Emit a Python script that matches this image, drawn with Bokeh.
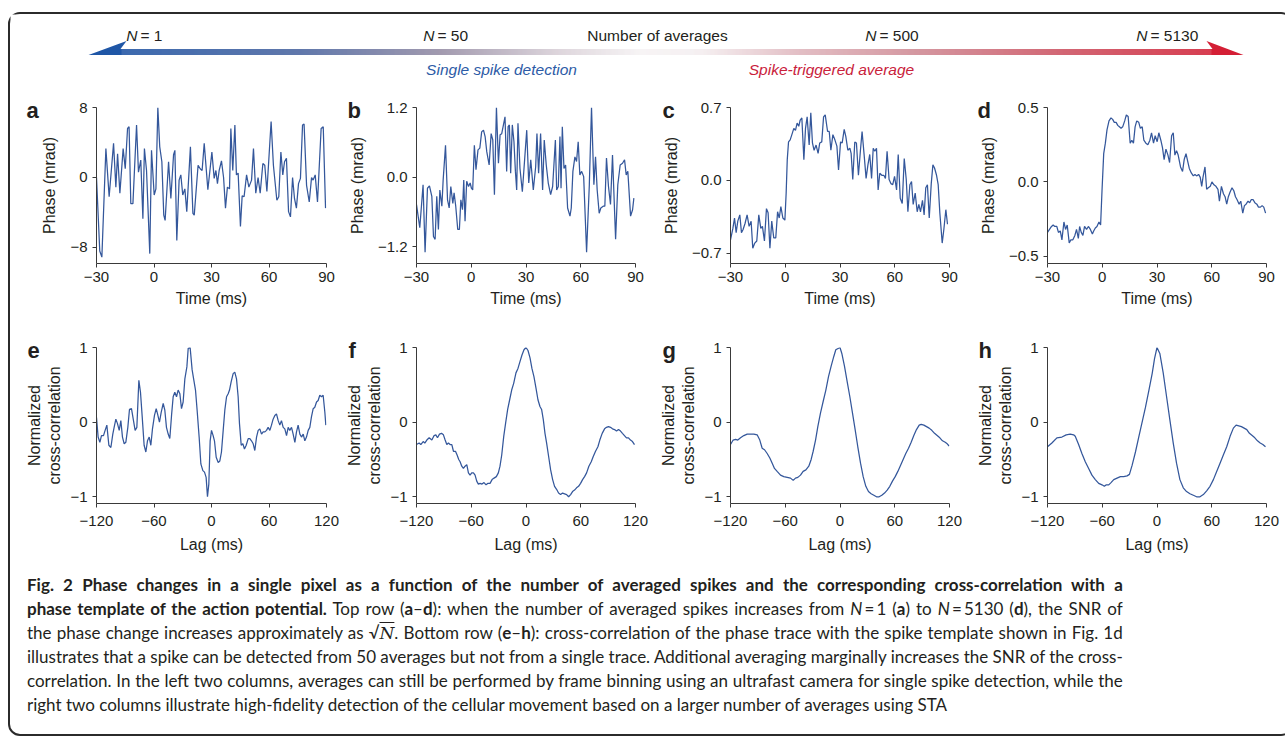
import numpy as np
from bokeh.plotting import figure
from bokeh.models import Range1d, FixedTicker, CustomJSTickFormatter, Label, Div
from bokeh.layouts import column, row
from bokeh.embed import file_html
from bokeh.resources import INLINE

# ---------------- data ----------------
# a: N = 1, phase (mrad) vs time (ms)
a_t = [-30.0,-28.3,-27.2,-25.1,-23.4,-21.1,-19.9,-19.0,-17.8,-16.1,-15.0,-13.8,-13.0,-12.1,-11.0,-9.1,-8.1,-6.9,-5.8,-5.0,
       -3.9,-2.2,-1.3,0.1,1.0,2.0,3.0,4.1,5.1,5.8,7.6,8.8,10.2,10.9,11.9,13.1,14.0,15.0,16.1,17.1,
       19.0,20.3,21.0,23.0,24.1,25.1,26.2,28.1,30.2,31.4,32.3,33.1,34.0,35.2,36.3,37.3,38.3,39.4,40.1,41.1,
       42.2,43.0,43.9,45.1,46.0,47.0,48.3,49.5,50.9,51.9,53.1,54.3,55.4,56.8,57.8,58.9,61.1,62.3,64.1,65.1,
       66.2,67.2,68.1,69.1,70.2,71.2,72.3,73.3,74.3,75.4,76.4,77.5,78.3,79.6,81.0,82.2,83.0,84.1,85.3,87.2,
       88.3,89.5]
a_v = [0.0,-8.4,-9.1,3.3,-2.2,3.9,-1.1,2.7,-1.8,3.3,1.0,5.6,5.8,-3.0,-3.0,6.0,0.6,2.0,-4.7,3.3,
       0.8,-8.7,3.1,-2.0,-1.3,8.0,3.5,1.8,-4.3,-4.9,1.8,-2.4,2.6,3.1,-7.2,-0.3,0.3,-2.0,-1.3,-3.9,
       3.5,-4.1,-4.3,1.4,1.0,0.8,3.9,-1.4,2.9,-0.1,0.8,-0.7,0.8,1.9,0.0,-3.5,-1.1,-1.3,5.6,0.8,
       6.0,0.3,0.5,-5.6,-2.1,-2.2,0.3,-1.1,-0.3,3.3,-1.8,0.0,-1.8,1.6,1.4,-1.6,6.4,1.4,-2.6,-2.2,
       2.9,0.3,1.8,2.2,-3.9,-4.5,0.0,-2.4,-3.5,-0.7,-0.1,6.0,6.1,-0.9,-2.8,0.0,-0.3,0.3,-2.8,5.6,
       5.8,-3.5]
# b: N = 50
b_t = [-30.0,-28.2,-26.4,-25.3,-24.0,-22.9,-21.6,-20.7,-19.8,-18.9,-18.0,-17.2,-16.1,-15.4,-14.1,-13.0,-12.1,-11.2,-10.1,-9.4,
       -8.5,-7.4,-6.5,-5.7,-4.8,-4.1,-3.4,-2.5,-1.5,-0.6,0.1,0.8,1.7,2.6,3.7,4.7,5.7,6.7,7.6,8.5,
       9.8,10.9,11.8,12.7,13.8,14.9,15.8,16.7,18.5,19.4,20.2,20.9,21.6,22.5,23.4,24.2,24.9,25.6,26.7,28.0,
       30.4,31.5,32.6,34.0,35.3,36.0,36.9,38.0,39.1,40.0,41.1,42.2,43.5,44.6,46.1,46.8,47.7,48.6,49.2,49.9,
       50.8,51.7,52.8,54.1,54.8,55.7,56.8,57.7,58.6,59.5,60.5,61.6,63.2,64.7,65.9,67.2,68.1,69.0,70.1,71.0,
       72.3,73.2,74.1,75.2,76.3,77.4,79.1,80.3,81.6,82.9,84.0,84.9,85.8,87.3,88.4,89.1]
b_v = [-0.47,-0.87,-0.13,-1.29,-0.19,-0.15,-0.33,-1.02,-1.07,-0.33,-0.9,-0.22,-0.5,-0.05,0.55,-0.39,-0.53,-0.16,-0.45,-0.27,
       -0.5,-0.9,-0.9,-0.39,-0.56,-0.05,-0.76,-0.07,-0.16,-0.1,-0.19,-0.22,0.55,0.13,0.47,0.5,0.78,0.81,0.7,0.44,
       0.21,0.75,0.64,-0.3,1.2,0.24,0.73,0.75,1.04,0.1,0.87,0.9,0.07,0.9,0.61,0.1,-0.22,0.93,0.15,-0.25,
       0.81,-0.1,0.3,-0.22,0.18,0.75,0.07,0.75,-0.22,0.64,0.21,-0.1,-0.3,-0.16,0.64,-0.22,-0.16,0.7,-0.19,0.87,
       0.15,0.21,-0.53,-0.67,-0.53,0.1,0.35,0.27,0.61,0.04,0.1,0.01,-1.29,-0.13,1.2,-0.13,0.35,-0.22,-0.62,-0.53,
       -0.5,-0.5,0.33,-0.16,-0.47,0.38,-1.07,-0.13,0.21,0.24,0.3,0.04,0.1,-0.67,-0.56,-0.36]
# c: N = 500
c_t = [-30.0,-28.7,-27.8,-26.9,-26.0,-24.9,-24.0,-23.1,-22.0,-20.9,-19.8,-18.7,-17.8,-16.7,-15.6,-14.5,-13.4,-12.5,-11.4,-10.3,
       -9.4,-8.4,-7.4,-6.3,-5.2,-4.2,-3.3,-2.4,-1.3,-0.2,0.5,1.1,1.8,2.7,3.8,4.7,5.6,6.5,7.4,8.2,
       9.1,10.2,11.1,12.0,13.1,14.0,14.9,15.8,16.9,18.0,18.9,20.0,21.0,21.9,23.2,24.1,25.0,26.1,27.2,28.3,
       29.2,30.3,31.2,32.3,33.2,34.3,35.4,36.1,37.0,38.1,39.0,40.1,41.2,42.1,43.2,44.3,45.3,46.3,47.3,48.2,
       49.1,50.0,50.9,51.8,52.9,54.0,54.9,55.8,56.9,57.9,58.9,59.9,61.0,61.9,63.0,64.1,65.2,66.3,67.2,68.3,
       69.2,70.1,71.2,72.3,73.2,74.1,75.2,76.1,77.0,77.9,78.9,80.0,80.9,81.8,82.9,83.8,84.7,86.0,86.9,88.0,
       88.9]
c_v = [-0.57,-0.46,-0.36,-0.5,-0.39,-0.33,-0.5,-0.47,-0.41,-0.33,-0.44,-0.39,-0.65,-0.6,-0.58,-0.33,-0.46,-0.44,-0.58,-0.27,
       -0.31,-0.65,-0.39,-0.55,-0.55,-0.3,-0.36,-0.25,-0.36,-0.38,-0.12,0.2,0.37,0.39,0.45,0.5,0.48,0.55,0.52,0.58,
       0.6,0.2,0.5,0.61,0.34,0.65,0.36,0.29,0.34,0.26,0.36,0.37,0.61,0.63,0.47,0.47,0.29,0.44,0.39,0.33,
       0.1,0.37,0.36,0.49,0.42,0.29,0.31,0.26,0.01,0.37,0.36,0.05,0.29,0.47,0.25,0.02,0.15,0.25,0.02,0.31,
       0.28,0.31,-0.09,0.07,0.05,0.05,0.02,0.28,0.01,-0.03,-0.04,0.04,-0.09,0.25,-0.17,-0.22,0.21,0.01,-0.3,-0.04,
       -0.01,-0.23,-0.12,-0.3,-0.23,-0.3,-0.19,-0.33,-0.07,-0.04,-0.36,-0.03,0.15,0.12,0.05,-0.04,-0.31,-0.6,-0.47,-0.28,
       -0.42]
# d: N = 5130
d_t = [-30.0,-28.9,-27.8,-26.9,-26.0,-24.9,-24.0,-23.0,-22.1,-21.0,-20.1,-19.2,-18.1,-17.2,-16.1,-15.0,-14.1,-13.1,-12.4,-11.5,
       -10.6,-9.7,-8.6,-7.6,-6.5,-5.4,-4.7,-3.8,-2.9,-1.8,-0.9,-0.1,0.8,1.7,2.6,3.7,4.8,5.7,6.6,7.6,
       8.5,9.4,10.3,11.2,12.3,13.2,14.2,15.3,16.2,17.1,18.0,18.9,20.0,20.9,21.9,22.8,23.9,25.0,26.1,27.0,
       28.1,29.0,30.1,31.0,32.1,33.0,33.9,34.9,36.0,36.9,38.0,38.9,39.8,40.7,41.6,42.9,44.0,44.9,45.9,46.8,
       47.7,48.8,49.9,50.8,51.7,52.8,53.7,54.5,55.2,56.3,57.2,58.1,59.2,60.1,61.2,62.3,63.4,64.2,65.3,66.4,
       67.3,68.2,69.1,70.0,71.1,72.1,73.0,73.9,75.0,75.9,77.0,77.9,78.8,79.9,80.8,81.6,82.7,83.6,84.7,85.6,
       86.7,87.6,88.5,89.5]
d_v = [-0.34,-0.32,-0.3,-0.29,-0.3,-0.3,-0.34,-0.33,-0.39,-0.27,-0.32,-0.29,-0.41,-0.39,-0.39,-0.36,-0.32,-0.38,-0.3,-0.34,
       -0.36,-0.3,-0.32,-0.3,-0.32,-0.35,-0.33,-0.31,-0.3,-0.27,-0.29,-0.05,0.19,0.26,0.35,0.41,0.43,0.42,0.4,0.4,
       0.38,0.37,0.36,0.37,0.41,0.45,0.44,0.26,0.28,0.26,0.37,0.41,0.4,0.36,0.37,0.28,0.26,0.25,0.28,0.33,
       0.26,0.31,0.27,0.33,0.28,0.23,0.15,0.22,0.18,0.13,0.31,0.33,0.18,0.21,0.18,0.1,0.07,0.15,0.19,0.14,
       0.09,0.06,0.04,0.05,0.04,0.05,0.03,-0.03,0.03,0.1,-0.05,-0.04,-0.03,0.0,-0.02,-0.03,-0.05,-0.13,-0.03,-0.08,
       -0.1,-0.15,-0.1,-0.07,-0.04,-0.06,-0.1,-0.12,-0.15,-0.13,-0.21,-0.16,-0.15,-0.13,-0.14,-0.12,-0.12,-0.14,-0.15,-0.17,
       -0.17,-0.16,-0.17,-0.21]
# e: cross-correlation, N = 1 (lag in ms)
e_t = [-120.0,-118.3,-116.5,-114.8,-112.7,-111.0,-109.2,-107.1,-105.0,-103.0,-101.6,-99.8,-98.1,-96.3,-94.6,-92.9,-91.1,-89.4,-87.3,-85.6,
       -83.5,-81.4,-79.7,-77.9,-75.8,-74.1,-72.3,-70.3,-68.5,-66.8,-65.0,-63.3,-61.6,-59.5,-57.7,-56.3,-54.3,-52.5,-50.4,-48.7,
       -47.0,-45.2,-43.5,-41.7,-40.0,-38.3,-36.5,-34.8,-33.0,-31.3,-29.6,-27.8,-25.7,-24.3,-22.3,-20.2,-18.4,-16.7,-15.0,-12.9,
       -11.1,-9.0,-7.3,-5.6,-4.2,-2.8,-1.4,0.0,1.7,3.1,4.9,7.0,8.7,10.4,12.2,13.9,15.7,17.4,18.8,20.5,
       22.6,24.3,26.1,27.8,29.2,31.0,32.7,34.4,36.2,38.3,40.0,41.7,43.5,45.2,47.0,48.7,50.4,52.2,53.9,55.7,
       57.4,59.1,60.9,62.6,64.3,66.1,67.8,69.6,71.3,73.0,74.8,76.5,78.3,80.0,81.7,83.5,85.2,87.0,88.7,90.4,
       92.2,93.9,95.7,97.4,99.1,100.9,102.6,104.3,106.1,107.8,109.6,111.3,113.0,114.8,116.5,118.3,119.3]
e_v = [0.06,-0.2,-0.27,-0.18,-0.18,-0.11,-0.04,-0.31,-0.34,-0.16,-0.07,0.04,-0.02,-0.11,0.02,-0.2,-0.29,-0.27,-0.07,0.17,
       0.18,0.02,-0.11,-0.07,0.56,0.4,0.07,-0.31,-0.4,-0.25,-0.2,-0.31,-0.09,0.09,0.18,0.11,0.0,0.13,0.25,0.16,
       -0.07,-0.16,-0.22,0.09,0.34,0.4,0.34,0.43,0.38,0.18,0.27,0.58,0.74,0.99,1.0,0.7,0.56,0.43,0.16,-0.2,
       -0.56,-0.65,-0.67,-0.74,-1.0,-0.83,-0.25,-0.11,-0.18,-0.25,-0.47,-0.54,-0.52,-0.4,-0.11,0.16,0.34,0.38,0.43,0.54,
       0.65,0.67,0.58,0.34,-0.02,-0.31,-0.29,-0.36,-0.31,-0.22,-0.22,-0.25,-0.29,-0.38,-0.2,-0.11,-0.09,-0.16,-0.13,-0.13,
       -0.11,-0.07,-0.11,-0.04,0.04,0.09,0.11,0.02,-0.04,0.02,-0.07,-0.09,-0.18,-0.07,-0.11,-0.07,-0.16,-0.27,-0.13,-0.04,
       -0.16,-0.2,-0.16,-0.25,-0.2,-0.11,-0.07,0.07,0.18,0.2,0.27,0.29,0.36,0.34,0.36,0.13,-0.04]
# f: N = 50
f_t = [-120.0,-117.1,-115.3,-112.7,-110.9,-108.7,-106.1,-103.2,-100.7,-98.8,-97.0,-94.8,-92.6,-90.5,-88.6,-86.8,-85.0,-83.2,-81.3,-79.5,
       -77.3,-75.5,-73.7,-72.2,-70.4,-68.6,-66.8,-64.9,-63.1,-61.3,-59.5,-57.6,-55.8,-54.0,-52.2,-50.3,-48.2,-46.0,-43.8,-41.6,
       -39.4,-37.2,-35.0,-32.5,-30.3,-28.5,-26.6,-24.4,-22.3,-20.1,-17.9,-15.7,-13.5,-11.0,-8.8,-6.6,-4.4,-2.2,0.0,2.2,
       4.4,6.5,8.7,10.9,13.1,15.3,17.1,19.0,20.8,22.6,24.8,27.0,29.2,31.3,33.5,35.7,37.9,40.1,42.3,44.5,
       46.7,48.9,51.0,53.2,55.4,57.6,59.8,62.0,64.2,66.4,68.9,71.5,73.7,76.2,78.8,80.9,83.5,86.1,88.2,90.4,
       92.6,94.8,97.0,99.2,101.4,103.6,105.7,107.9,110.1,112.3,114.5,116.7,118.9]
f_v = [-0.3,-0.28,-0.3,-0.26,-0.28,-0.24,-0.21,-0.24,-0.18,-0.17,-0.21,-0.16,-0.15,-0.17,-0.24,-0.3,-0.28,-0.3,-0.3,-0.39,
       -0.39,-0.44,-0.5,-0.53,-0.59,-0.62,-0.59,-0.57,-0.68,-0.71,-0.68,-0.68,-0.71,-0.79,-0.83,-0.82,-0.83,-0.81,-0.84,-0.82,
       -0.82,-0.77,-0.75,-0.73,-0.68,-0.59,-0.44,-0.19,-0.01,0.17,0.3,0.43,0.52,0.66,0.72,0.81,0.9,0.97,1.0,0.96,
       0.86,0.72,0.61,0.46,0.3,0.21,0.17,0.03,-0.15,-0.28,-0.46,-0.64,-0.77,-0.86,-0.9,-0.95,-0.97,-0.95,-0.96,-0.97,
       -1.0,-0.97,-0.93,-0.91,-0.88,-0.86,-0.82,-0.77,-0.73,-0.68,-0.59,-0.53,-0.46,-0.39,-0.33,-0.24,-0.15,-0.09,-0.07,-0.06,
       -0.07,-0.09,-0.1,-0.12,-0.1,-0.12,-0.15,-0.18,-0.21,-0.21,-0.24,-0.26,-0.3]
# g: N = 500
g_t = [-120.0,-117.1,-114.5,-112.0,-109.0,-105.4,-101.7,-98.1,-94.4,-90.8,-87.9,-85.3,-82.7,-79.8,-76.9,-74.3,-71.8,-68.9,-65.2,-61.6,
       -57.9,-54.2,-51.3,-48.8,-46.2,-43.3,-40.4,-37.4,-34.2,-31.6,-29.4,-26.8,-24.3,-21.4,-18.4,-15.5,-12.6,-9.7,-6.8,-4.6,
       0.0,2.0,4.9,7.9,10.8,13.7,16.6,19.5,22.5,25.4,28.3,31.2,34.1,37.1,40.0,42.9,45.8,48.8,51.7,54.6,
       57.5,60.5,63.4,66.3,69.2,72.1,75.1,78.0,80.9,83.8,86.8,89.0,91.9,94.8,97.7,100.6,103.6,106.5,109.4,112.3,
       115.3,117.5,119.6]
g_v = [-0.3,-0.24,-0.23,-0.24,-0.21,-0.18,-0.16,-0.16,-0.16,-0.17,-0.24,-0.35,-0.37,-0.42,-0.48,-0.55,-0.62,-0.66,-0.71,-0.73,
       -0.74,-0.75,-0.78,-0.75,-0.74,-0.71,-0.66,-0.64,-0.59,-0.5,-0.39,-0.24,-0.06,0.12,0.28,0.43,0.61,0.75,0.88,0.97,
       1.0,0.92,0.75,0.54,0.34,0.12,-0.1,-0.33,-0.55,-0.73,-0.86,-0.93,-0.96,-0.98,-1.0,-1.0,-0.98,-0.95,-0.91,-0.86,
       -0.79,-0.73,-0.66,-0.58,-0.5,-0.42,-0.35,-0.27,-0.18,-0.1,-0.04,-0.03,-0.04,-0.06,-0.08,-0.11,-0.15,-0.18,-0.21,-0.25,
       -0.27,-0.29,-0.32]
# h: N = 5130
h_t = [-120.0,-115.2,-109.7,-104.2,-99.5,-95.1,-91.4,-89.6,-85.9,-82.3,-78.6,-74.9,-71.3,-67.6,-63.9,-60.3,-57.7,-55.5,-52.9,-50.4,
       -47.4,-43.8,-40.1,-36.5,-32.8,-30.2,-27.3,-23.6,-20.0,-16.3,-12.6,-9.0,-5.3,-2.7,0.0,3.1,6.8,10.5,14.1,17.8,
       21.4,25.1,28.8,32.4,36.1,39.8,43.4,47.1,50.8,54.4,58.1,61.8,65.4,69.1,72.7,76.4,80.1,83.7,86.7,89.6,
       92.5,95.5,98.4,101.3,104.3,107.2,110.1,113.1,116.0,118.9]
h_v = [-0.33,-0.28,-0.21,-0.2,-0.17,-0.16,-0.17,-0.19,-0.3,-0.42,-0.53,-0.62,-0.71,-0.77,-0.82,-0.84,-0.86,-0.84,-0.84,-0.81,
       -0.77,-0.75,-0.73,-0.73,-0.72,-0.7,-0.58,-0.4,-0.2,0.0,0.2,0.42,0.65,0.85,1.0,0.92,0.66,0.34,0.03,-0.28,
       -0.55,-0.77,-0.88,-0.93,-0.96,-0.98,-1.0,-1.0,-0.97,-0.92,-0.86,-0.77,-0.66,-0.55,-0.44,-0.33,-0.19,-0.08,-0.04,-0.05,
       -0.06,-0.08,-0.1,-0.15,-0.18,-0.21,-0.25,-0.28,-0.3,-0.33]

letters = ["a", "b", "c", "d", "e", "f", "g", "h"]
time_ticks = [-30, 0, 30, 60, 90]
lag_ticks = [-120, -60, 0, 60, 120]
phase_ticks = [[-8, 0, 8], [-1.2, 0.0, 1.2], [-0.7, 0.0, 0.7], [-0.5, 0.0, 0.5]]
phase_decimals = [0, 1, 1, 1]
phase_ylims = [(-9.83, 8), (-1.486, 1.2), (-0.796, 0.7), (-0.549, 0.5)]
xcorr_ticks = [-1, 0, 1]
xcorr_ylim = (-1.09, 1)
header_counts = ["1", "50", "500", "5130"]

# ---------------- style ----------------
FONT = "Liberation Sans"
LINE = "#34579b"
INK = "#231f20"
AXC = "#3a3a3a"

INNER_W = 1271
# column geometry: (figure width, left border, right border)
COLS = [(330, 86, 14), (315, 76, 20), (315, 75, 21), (311, 77, 15)]
# rows: (height, top border, bottom border, tick-label standoff, axis-label standoff, ylabel standoff)
ROW1 = (240, 27, 57, 4, 5, 9)
ROW2 = (238, 27, 55, 8, 7, 4)
LETTER_DX = [-70, -69, -68, -70, -69, -68, -68, -69]


def tick_fmt(dec):
    return CustomJSTickFormatter(args=dict(d=dec), code="""
        const s = Math.abs(tick).toFixed(d);
        return (tick < -1e-9 ? '\u2212' : '') + s;
    """)


def style_axis(ax):
    ax.axis_line_color = AXC
    ax.axis_line_width = 1
    ax.major_tick_line_color = AXC
    ax.major_tick_out = 4
    ax.major_tick_in = 0
    ax.minor_tick_line_color = None
    ax.major_label_text_font = FONT
    ax.major_label_text_font_size = "15px"
    ax.major_label_text_color = INK
    ax.axis_label_text_font = FONT
    ax.axis_label_text_font_size = "16px"
    ax.axis_label_text_font_style = "normal"
    ax.axis_label_text_color = INK


def panel(t, v, xr, yr, xticks, yticks, ydec, xlabel, ylabel, letter, dx, geom, rowspec):
    width, bl, br = geom
    height, bt, bb, xstand, xlabstand, ylabstand = rowspec
    p = figure(width=width, height=height, x_range=Range1d(*xr), y_range=Range1d(*yr),
               output_backend="svg", toolbar_location=None, title=None,
               min_border_left=bl, min_border_right=br, min_border_top=bt, min_border_bottom=bb)
    p.outline_line_color = None
    p.grid.visible = False
    p.background_fill_color = "white"
    p.border_fill_color = "white"
    p.line(t, v, line_color=LINE, line_width=1.25)
    xa, ya = p.xaxis[0], p.yaxis[0]
    style_axis(xa)
    style_axis(ya)
    xa.ticker = FixedTicker(ticks=xticks)
    xa.formatter = tick_fmt(0)
    xa.axis_label = xlabel
    xa.major_label_standoff = xstand
    xa.axis_label_standoff = xlabstand
    ya.ticker = FixedTicker(ticks=yticks)
    ya.formatter = tick_fmt(ydec)
    ya.axis_label = ylabel
    ya.major_label_standoff = 5
    ya.axis_label_standoff = ylabstand
    # panel letter, placed in the top side panel so that it is not clipped to the frame
    p.add_layout(Label(x=bl + dx, y=bt + 3, x_units="canvas", y_units="canvas", text=letter,
                       text_font=FONT, text_font_size="22px", text_font_style="bold",
                       text_color=INK, text_align="left", text_baseline="alphabetic"), "above")
    return p


top_series = [(a_t, a_v), (b_t, b_v), (c_t, c_v), (d_t, d_v)]
bot_series = [(e_t, e_v), (f_t, f_v), (g_t, g_v), (h_t, h_v)]

top = []
for i, (t, v) in enumerate(top_series):
    top.append(panel(t, v, (-30, 90), phase_ylims[i], time_ticks, phase_ticks[i], phase_decimals[i],
                     "Time (ms)", "Phase (mrad)", letters[i], LETTER_DX[i], COLS[i], ROW1))
bot = []
for i, (t, v) in enumerate(bot_series):
    bot.append(panel(t, v, (-120, 120), xcorr_ylim, lag_ticks, xcorr_ticks, 0,
                     "Lag (ms)", "Normalized\ncross-correlation", letters[4 + i], LETTER_DX[4 + i], COLS[i], ROW2))

# ---------------- header: gradient arrow ----------------
HW, HH = INNER_W, 66
OX, OY = 10, 14  # page offset of the header canvas
hdr = figure(width=HW, height=HH, x_range=Range1d(0, HW), y_range=Range1d(HH, 0),
             output_backend="svg", toolbar_location=None, title=None, min_border=0,
             x_axis_type=None, y_axis_type=None)
hdr.outline_line_color = None
hdr.background_fill_color = "white"
hdr.border_fill_color = "white"

stops_x = [88, 300, 440, 560, 640, 700, 800, 920, 1060, 1243]
stops_c = ["#1f56a6", "#4f69a2", "#988fa6", "#dbd2d9", "#f6f3f4", "#f4eef0",
           "#dfb6bd", "#cf8a94", "#cd5665", "#d41f35"]


def hex2rgb(h):
    return np.array([int(h[i:i + 2], 16) for i in (1, 3, 5)], dtype=float)


crgb = np.array([hex2rgb(c) for c in stops_c])
xs = np.arange(119.0, 1212.0, 1.0)
cols = []
for x in xs:
    rgb = [np.interp(x, stops_x, crgb[:, k]) for k in range(3)]
    cols.append("#%02x%02x%02x" % tuple(int(round(c)) for c in rgb))
sh_top, sh_bot = 48.5, 54.5
hdr.quad(left=xs - OX, right=xs - OX + 1.3, top=sh_top - OY, bottom=sh_bot - OY,
         fill_color=cols, line_color=None)
lh_x = np.array([88, 126, 120, 121, 121]) - OX
lh_y = np.array([54.5, 40.5, 48.5, 48.5, 54.5]) - OY
hdr.patch(lh_x, lh_y, fill_color=stops_c[0], line_color=None)
rh_x = np.array([1243, 1206, 1212, 1211, 1211]) - OX
rh_y = np.array([54.5, 40.5, 48.5, 48.5, 54.5]) - OY
hdr.patch(rh_x, rh_y, fill_color=stops_c[-1], line_color=None)

HFS = "15.5px"
n_end = [137, 434, 876, 1147]
for xe, n in zip(n_end, header_counts):
    hdr.add_layout(Label(x=xe - OX, y=35 - OY, text="N", text_font=FONT, text_font_size=HFS,
                         text_font_style="italic", text_color=INK, text_align="right",
                         text_baseline="middle"))
    hdr.add_layout(Label(x=xe + 3 - OX, y=35 - OY, text="= " + n, text_font=FONT, text_font_size=HFS,
                         text_color=INK, text_align="left", text_baseline="middle"))
hdr.add_layout(Label(x=657 - OX, y=35 - OY, text="Number of averages", text_font=FONT,
                     text_font_size=HFS, text_color=INK, text_align="center", text_baseline="middle"))
hdr.add_layout(Label(x=501 - OX, y=69 - OY, text="Single spike detection", text_font=FONT,
                     text_font_size=HFS, text_font_style="italic", text_color="#2d5ba6",
                     text_align="center", text_baseline="middle"))
hdr.add_layout(Label(x=831 - OX, y=69 - OY, text="Spike-triggered average", text_font=FONT,
                     text_font_size=HFS, text_font_style="italic", text_color="#c9213b",
                     text_align="center", text_baseline="middle"))

# ---------------- caption ----------------
J = "white-space:nowrap;text-align:justify;text-align-last:justify;"
NI = "<i>N</i>"
cap_html = f"""
<div style="font-family:'Lato','Liberation Sans',sans-serif;font-size:17px;color:{INK};line-height:24px;padding:10px 9px 0 12px;">
<div style="{J}"><b>Fig. 2 Phase changes in a single pixel as a function of the number of averaged spikes and the corresponding cross-correlation with a</b></div>
<div style="{J}"><b>phase template of the action potential.</b> Top row (<b>a</b>&ndash;<b>d</b>): when the number of averaged spikes increases from {NI}&thinsp;=&thinsp;1 (<b>a</b>) to {NI}&thinsp;=&thinsp;5130 (<b>d</b>), the SNR of</div>
<div style="{J}">the phase change increases approximately as &radic;<span style="font-family:'DejaVu Serif',serif;font-style:italic;text-decoration:overline;">N</span>. Bottom row (<b>e</b>&ndash;<b>h</b>): cross-correlation of the phase trace with the spike template shown in Fig. 1d</div>
<div style="{J}">illustrates that a spike can be detected from 50 averages but not from a single trace. Additional averaging marginally increases the SNR of the cross-</div>
<div style="{J}">correlation. In the left two columns, averages can still be performed by frame binning using an ultrafast camera for single spike detection, while the</div>
<div style="white-space:nowrap;">right two columns illustrate high-fidelity detection of the cellular movement based on a larger number of averages using STA</div>
</div>
"""
cap = Div(text=cap_html, width=INNER_W, height=166)

root = column(hdr, row(*top), row(*bot), cap,
              styles={"border": "2px solid #2b2b2b", "border-radius": "12px",
                      "margin": "12px 0 0 8px", "box-sizing": "content-box"})

open("out.html", "w").write(file_html(root, INLINE))
